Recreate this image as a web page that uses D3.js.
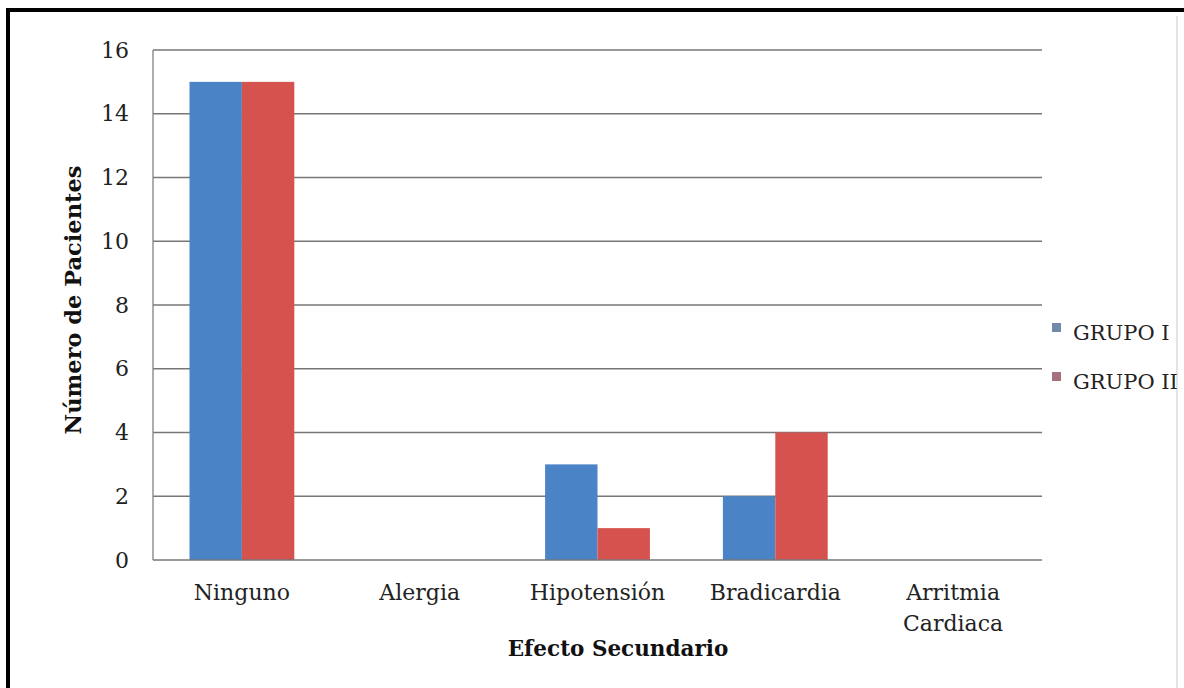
<!DOCTYPE html>
<html>
<head>
<meta charset="utf-8">
<script src="https://cdn.jsdelivr.net/npm/d3@7/dist/d3.min.js"></script>
<style>
  html, body { margin: 0; padding: 0; background: #ffffff; }
  svg { display: block; }
</style>
</head>
<body>
<script>
// Side effects recorded per patient group
const categories = ["Ninguno", "Alergia", "Hipotensión", "Bradicardia", "Arritmia Cardiaca"];
const seriesNames = ["GRUPO I", "GRUPO II"];
const grupoI = [15, 0, 3, 2, 0];
const grupoII = [15, 0, 1, 4, 0];
const yTicks = [0, 2, 4, 6, 8, 10, 12, 14, 16];
const colors = ["#4a84c6", "#d5524e"];
const legendColors = ["#7088aa", "#a8707c"];

const W = 1184, H = 688;
const margin = { left: 153, right: 142, top: 50, bottom: 128 };
const serif = "'DejaVu Serif', serif";

const svg = d3.select("body").append("svg").attr("width", W).attr("height", H);

// frame around the figure
svg.append("line").attr("x1", 8).attr("x2", W).attr("y1", 10).attr("y2", 10)
  .attr("stroke", "#000").attr("stroke-width", 4);
svg.append("line").attr("x1", 8).attr("x2", 8).attr("y1", 8).attr("y2", H)
  .attr("stroke", "#000").attr("stroke-width", 4);
svg.append("line").attr("x1", 1177).attr("x2", 1177).attr("y1", 16).attr("y2", H)
  .attr("stroke", "#e4e4e4").attr("stroke-width", 2);

const x0 = d3.scaleBand().domain(categories).range([margin.left, W - margin.right]);
const x1 = d3.scaleBand().domain(seriesNames).range([0, x0.bandwidth()]).paddingInner(0).paddingOuter(0.39 / 0.28 / 2);
const y = d3.scaleLinear().domain([0, 16]).range([H - margin.bottom, margin.top]);

// horizontal gridlines
svg.append("g").selectAll("line").data(yTicks.filter(t => t > 0)).join("line")
  .attr("x1", margin.left).attr("x2", W - margin.right)
  .attr("y1", d => y(d)).attr("y2", d => y(d))
  .attr("stroke", "#777").attr("stroke-width", 1.6);

// bars
const rows = categories.map((c, i) => ({ cat: c, vals: [grupoI[i], grupoII[i]] }));
svg.append("g").selectAll("g").data(rows).join("g")
  .attr("transform", d => `translate(${x0(d.cat)},0)`)
  .selectAll("rect").data(d => d.vals.map((v, j) => ({ v, s: seriesNames[j], j })))
  .join("rect")
  .attr("x", d => x1(d.s)).attr("width", x1.bandwidth())
  .attr("y", d => y(d.v)).attr("height", d => y(0) - y(d.v))
  .attr("fill", d => colors[d.j]);

// axes lines
svg.append("line").attr("x1", margin.left).attr("x2", margin.left)
  .attr("y1", y(16)).attr("y2", y(0)).attr("stroke", "#8a8a8a").attr("stroke-width", 1.4);
svg.append("line").attr("x1", margin.left).attr("x2", W - margin.right)
  .attr("y1", y(0)).attr("y2", y(0)).attr("stroke", "#777").attr("stroke-width", 1.6);

// y tick labels
const yAxis = d3.axisLeft(y).tickValues(yTicks).tickSize(0).tickPadding(24);
const gy = svg.append("g").attr("transform", `translate(${margin.left},0)`).call(yAxis);
gy.select(".domain").remove();
gy.selectAll("text").attr("font-family", serif).attr("font-size", 22).attr("fill", "#222");

// x category labels (multi-line)
const xAxis = d3.axisBottom(x0).tickSize(0).tickPadding(0).tickFormat("");
const gx = svg.append("g").attr("transform", `translate(0,${y(0)})`).call(xAxis);
gx.select(".domain").remove();
gx.selectAll(".tick").each(function(d) {
  const words = d === "Arritmia Cardiaca" ? ["Arritmia", "Cardiaca"] : [d];
  const t = d3.select(this).append("text")
    .attr("font-family", serif).attr("font-size", 22).attr("fill", "#222")
    .attr("text-anchor", "middle");
  words.forEach((w, i) => t.append("tspan").attr("x", 0).attr("y", 40 + i * 31).text(w));
});

// axis titles
svg.append("text").attr("x", 618).attr("y", 656).attr("text-anchor", "middle")
  .attr("font-family", serif).attr("font-weight", "bold").attr("font-size", 21.5).attr("fill", "#111")
  .text("Efecto Secundario");
svg.append("text").attr("transform", "translate(81,300) rotate(-90)").attr("text-anchor", "middle")
  .attr("font-family", serif).attr("font-weight", "bold").attr("font-size", 22.5).attr("fill", "#111")
  .text("Número de Pacientes");

// legend
const lg = svg.append("g").selectAll("g").data(seriesNames).join("g")
  .attr("transform", (d, i) => `translate(1052,${323 + i * 49})`);
lg.append("rect").attr("width", 9).attr("height", 9).attr("fill", (d, i) => legendColors[i]);
lg.append("text").attr("x", 21).attr("y", 17)
  .attr("font-family", serif).attr("font-size", 21).attr("fill", "#222").text(d => d);
</script>
</body>
</html>
